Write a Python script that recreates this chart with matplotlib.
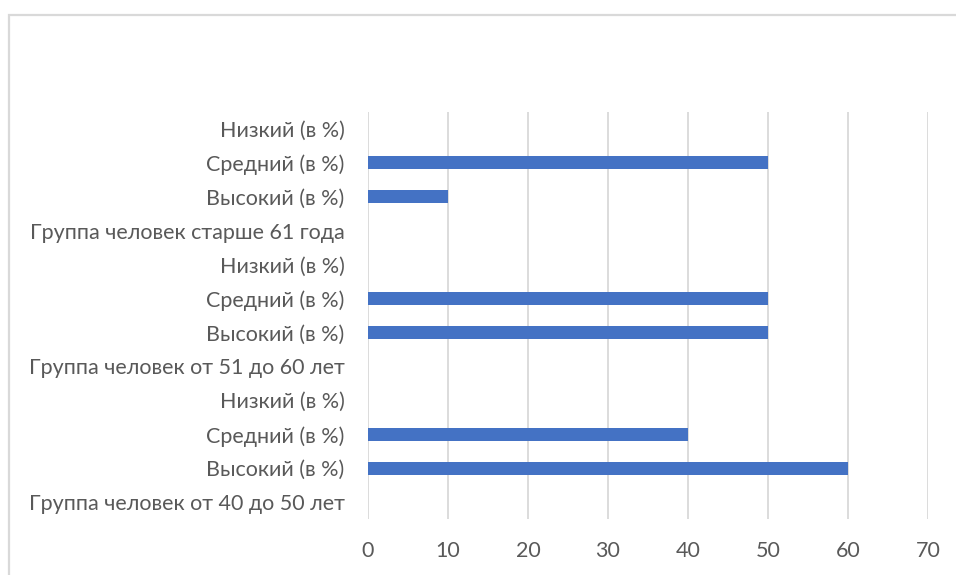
import matplotlib
matplotlib.use("Agg")
import matplotlib.pyplot as plt
from matplotlib.patches import Rectangle

# Categories listed from bottom to top
categories = [
    "Группа человек от 40 до 50 лет",
    "Высокий (в %)",
    "Средний (в %)",
    "Низкий (в %)",
    "Группа человек от 51 до 60 лет",
    "Высокий (в %)",
    "Средний (в %)",
    "Низкий (в %)",
    "Группа человек старше 61 года",
    "Высокий (в %)",
    "Средний (в %)",
    "Низкий (в %)",
]
values = [0, 60, 40, 0, 0, 50, 50, 0, 0, 10, 50, 0]
x_ticks = [0, 10, 20, 30, 40, 50, 60, 70]

plt.rcParams["font.family"] = ["Lato", "DejaVu Sans"]

fig = plt.figure(figsize=(9.56, 5.75), dpi=100)
ax = fig.add_axes([0.385, 0.0974, 0.5857, 0.7078])

pos = list(range(len(categories)))
ax.barh(pos, values, height=0.38, color="#4472C4", zorder=3)

ax.set_xlim(0, 70)
ax.set_ylim(-0.5, len(categories) - 0.5)
ax.set_xticks(x_ticks)
ax.set_yticks(pos)
ax.set_yticklabels(categories)

ax.grid(axis="x", color="#D9D9D9", linewidth=1.3, zorder=0)
for s in ax.spines.values():
    s.set_visible(False)
ax.tick_params(axis="both", length=0, labelsize=15.5, colors="#595959")
ax.tick_params(axis="x", pad=16)
ax.tick_params(axis="y", pad=17)

# chart area frame
fig.patches.append(Rectangle((9 / 956, -0.05), 1.0, 1 - 15 / 575 + 0.05,
                             transform=fig.transFigure, fill=False,
                             edgecolor="#D9D9D9", linewidth=1.6))

fig.savefig("out.png", dpi=100, facecolor="white")
